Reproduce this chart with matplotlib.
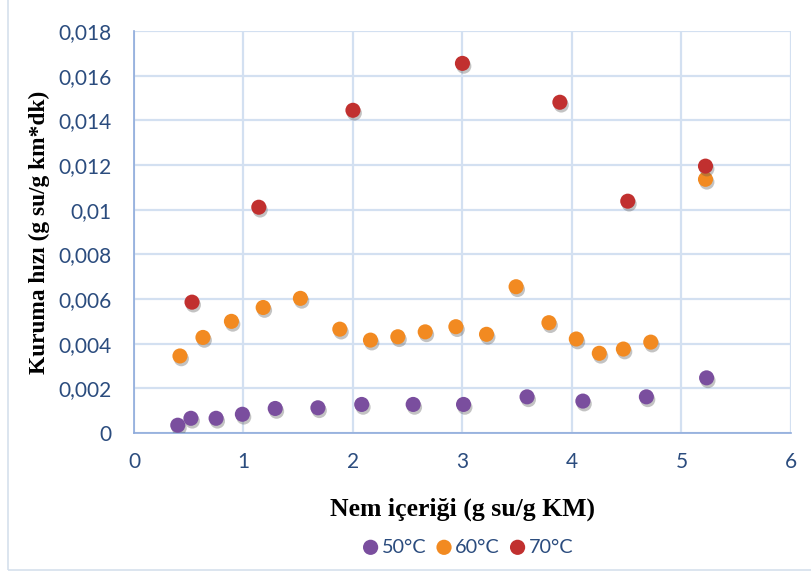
import matplotlib
matplotlib.use("Agg")
import matplotlib.pyplot as plt
import matplotlib.patheffects as pe
from matplotlib.patches import Rectangle
from matplotlib.ticker import FuncFormatter, MultipleLocator

# Drying rate vs. moisture content at three temperatures
x_50 = [0.40, 0.52, 0.75, 0.99, 1.29, 1.68, 2.08, 2.55, 3.01, 3.59, 4.10, 4.68, 5.23]
y_50 = [0.00035, 0.00066, 0.00066, 0.00084, 0.00110, 0.00113, 0.00128, 0.00128, 0.00128,
        0.00162, 0.00143, 0.00162, 0.00247]

x_60 = [0.42, 0.63, 0.89, 1.18, 1.52, 1.88, 2.16, 2.41, 2.66, 2.94, 3.22, 3.49, 3.79,
        4.04, 4.25, 4.47, 4.72, 5.22]
y_60 = [0.00345, 0.00428, 0.00500, 0.00562, 0.00603, 0.00465, 0.00416, 0.00431, 0.00453,
        0.00476, 0.00442, 0.00655, 0.00494, 0.00421, 0.00357, 0.00376, 0.00407, 0.01136]

x_70 = [0.53, 1.14, 2.00, 3.00, 3.89, 4.51, 5.22]
y_70 = [0.00586, 0.01011, 0.01445, 0.01655, 0.01481, 0.01038, 0.01195]

labels = ["50°C", "60°C", "70°C"]
colors = ["#7A4E9E", "#F28A21", "#C1302F"]

tick_color = "#2B4C7E"
grid_color = "#D3E0F1"
axis_color = "#8EAADB"

fig = plt.figure(figsize=(8.12, 5.74), dpi=100)
ax = fig.add_axes([0.165, 0.2456, 0.809, 0.7004])

shadow = [pe.SimplePatchShadow(offset=(1.0, -2.0), shadow_rgbFace="#555555", alpha=0.35),
          pe.Normal()]
for xs, ys, c, lab in zip([x_50, x_60, x_70], [y_50, y_60, y_70], colors, labels):
    ax.scatter(xs, ys, s=118, color=c, edgecolors="none", label=lab, zorder=3,
               path_effects=shadow)

ax.set_xlim(0, 6)
ax.set_ylim(0, 0.018)
ax.xaxis.set_major_locator(MultipleLocator(1))
ax.yaxis.set_major_locator(MultipleLocator(0.002))


def comma_fmt(v, pos):
    if abs(v) < 1e-12:
        return "0"
    s = f"{v:.3f}".rstrip("0").rstrip(".")
    return s.replace(".", ",")


ax.yaxis.set_major_formatter(FuncFormatter(comma_fmt))
ax.xaxis.set_major_formatter(FuncFormatter(lambda v, p: f"{int(round(v))}"))

ax.grid(True, color=grid_color, linewidth=1.6, zorder=0)
ax.set_axisbelow(True)
for side in ["top", "right"]:
    ax.spines[side].set_visible(False)
ax.spines["left"].set_color(axis_color)
ax.spines["bottom"].set_color(axis_color)
ax.spines["left"].set_linewidth(1.2)
ax.spines["bottom"].set_linewidth(1.2)

ax.tick_params(axis="both", length=0, labelsize=15, colors=tick_color)
ax.tick_params(axis="x", pad=14)
ax.tick_params(axis="y", pad=16)
for t in ax.get_xticklabels() + ax.get_yticklabels():
    t.set_family(["Lato", "DejaVu Sans"])

ax.set_xlabel("Nem içeriği (g su/g KM)", family="Liberation Serif", fontweight="bold",
              fontsize=18.5, color="black", labelpad=18)
ax.set_ylabel("Kuruma hızı (g su/g km*dk)", family="Liberation Serif", fontweight="bold",
              fontsize=16.8, color="black", labelpad=6)

leg = fig.legend(loc="center", bbox_to_anchor=(0.575, 0.047), ncol=3, frameon=False,
                 handletextpad=0.05, columnspacing=0.4, handlelength=1.0,
                 prop={"family": ["Lato", "DejaVu Sans"], "size": 14.3})
for t in leg.get_texts():
    t.set_color(tick_color)
for h in leg.legend_handles:
    h.set_path_effects([])
    h.set_sizes([120])

fig.patches.append(Rectangle((8 / 812, 1 - 570 / 574), 820 / 812, 580 / 574,
                             transform=fig.transFigure, fill=False,
                             edgecolor="#D6E0EC", linewidth=1.2))

fig.savefig("out.png", dpi=100)
